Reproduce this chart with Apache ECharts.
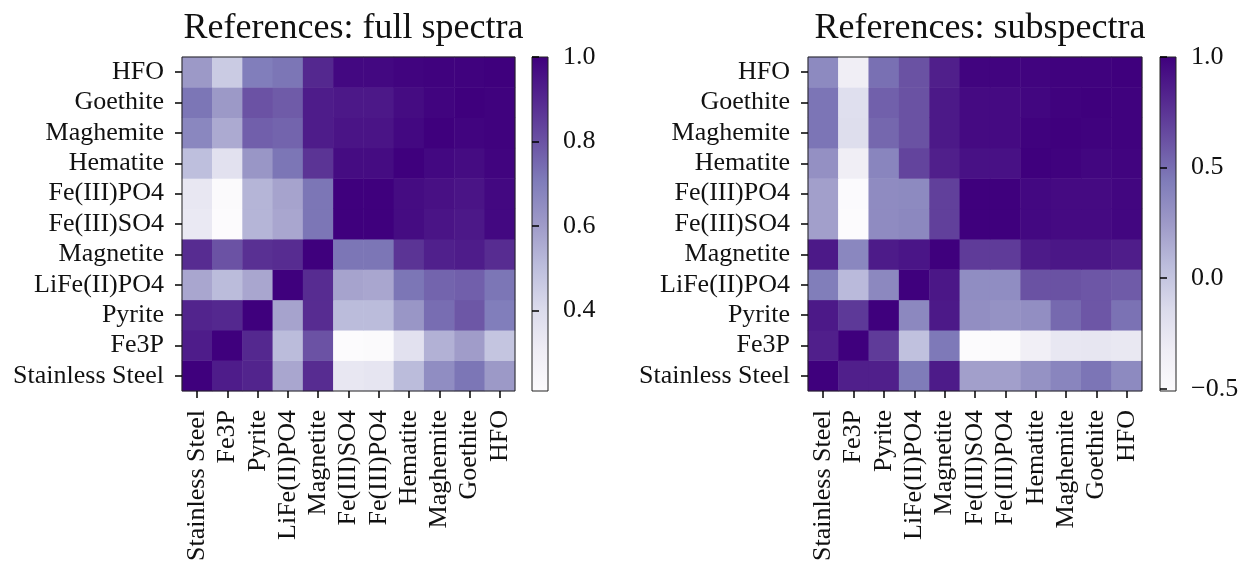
<!DOCTYPE html>
<html>
<head>
<meta charset="utf-8">
<title>References: correlation heatmaps</title>
<script src="https://cdn.jsdelivr.net/npm/echarts@6/dist/echarts.min.js"></script>
<style>
  html, body { margin: 0; padding: 0; background: #fff; }
  #chart { width: 1239px; height: 563px; }
</style>
</head>
<body>
<div id="chart"></div>
<script>
// Reference compounds, in axis order (first entry sits at the bottom of the y axis)
const labels = ['Stainless Steel', 'Fe3P', 'Pyrite', 'LiFe(II)PO4', 'Magnetite',
  'Fe(III)SO4', 'Fe(III)PO4', 'Hematite', 'Maghemite', 'Goethite', 'HFO'];

// Correlation of full spectra; row i / column j follow `labels`
const fullSpectra = [
  [1.00, 0.93, 0.91, 0.57, 0.89, 0.34, 0.35, 0.51, 0.65, 0.72, 0.61],
  [0.93, 1.00, 0.90, 0.51, 0.80, 0.21, 0.22, 0.37, 0.54, 0.60, 0.48],
  [0.91, 0.90, 1.00, 0.58, 0.89, 0.51, 0.51, 0.62, 0.74, 0.79, 0.70],
  [0.57, 0.51, 0.57, 1.00, 0.89, 0.58, 0.57, 0.72, 0.76, 0.77, 0.72],
  [0.89, 0.80, 0.88, 0.89, 1.00, 0.72, 0.72, 0.87, 0.92, 0.93, 0.89],
  [0.33, 0.21, 0.53, 0.57, 0.72, 1.00, 1.00, 0.97, 0.95, 0.94, 0.98],
  [0.34, 0.22, 0.53, 0.58, 0.72, 1.00, 1.00, 0.97, 0.96, 0.95, 0.98],
  [0.50, 0.37, 0.62, 0.72, 0.87, 0.97, 0.97, 1.00, 0.98, 0.97, 0.99],
  [0.67, 0.56, 0.77, 0.76, 0.93, 0.95, 0.95, 0.98, 1.00, 0.99, 0.995],
  [0.72, 0.61, 0.80, 0.78, 0.93, 0.94, 0.94, 0.97, 0.99, 1.00, 0.995],
  [0.61, 0.46, 0.70, 0.72, 0.90, 0.98, 0.98, 0.99, 0.995, 0.995, 1.00]
];

// Correlation of subspectra; same ordering
const subSpectra = [
  [1.00, 0.85, 0.85, 0.44, 0.87, 0.22, 0.22, 0.30, 0.38, 0.47, 0.35],
  [0.85, 1.00, 0.72, 0.03, 0.45, -0.51, -0.49, -0.35, -0.26, -0.25, -0.27],
  [0.88, 0.73, 1.00, 0.36, 0.88, 0.32, 0.30, 0.32, 0.52, 0.60, 0.48],
  [0.43, 0.07, 0.36, 1.00, 0.89, 0.33, 0.33, 0.62, 0.62, 0.60, 0.58],
  [0.88, 0.37, 0.87, 0.90, 1.00, 0.72, 0.72, 0.87, 0.89, 0.89, 0.86],
  [0.22, -0.51, 0.34, 0.36, 0.70, 1.00, 1.00, 0.96, 0.95, 0.95, 0.97],
  [0.22, -0.50, 0.34, 0.35, 0.70, 1.00, 1.00, 0.96, 0.95, 0.95, 0.97],
  [0.31, -0.33, 0.38, 0.68, 0.85, 0.92, 0.92, 1.00, 0.99, 0.97, 0.98],
  [0.47, -0.17, 0.53, 0.62, 0.88, 0.95, 0.95, 0.99, 1.00, 0.99, 0.99],
  [0.47, -0.18, 0.56, 0.62, 0.88, 0.95, 0.95, 0.97, 0.99, 1.00, 0.99],
  [0.35, -0.33, 0.49, 0.62, 0.85, 0.98, 0.98, 0.98, 0.99, 0.99, 1.00]
];

// Colorbar tick labels
const fullTicks = [0.4, 0.6, 0.8, 1.0];
const subTicks = [-0.5, 0.0, 0.5, 1.0];

const titles = ['References: full spectra', 'References: subspectra'];

// Purples colormap stops
const purples = ['#fcfbfd', '#efedf5', '#dadaeb', '#bcbddc', '#9e9ac8',
  '#807dba', '#6a51a3', '#54278f', '#3f007d'];

const FONT = '"Liberation Serif", "DejaVu Serif", serif';
const INK = '#111';
const TICK_FONT = 26;

function toCells(matrix) {
  const out = [];
  matrix.forEach((row, i) => row.forEach((v, j) => out.push([j, i, v])));
  return out;
}
function extent(matrix) {
  const flat = matrix.flat();
  return [Math.min(...flat), Math.max(...flat)];
}
const fmt = v => v.toFixed(1).replace('-', '\u2212');

const panels = [
  { matrix: fullSpectra, ticks: fullTicks, title: titles[0],
    grid: { left: 182, top: 57, width: 333, height: 334 },
    bar: { left: 532, top: 57, width: 16, height: 334 } },
  { matrix: subSpectra, ticks: subTicks, title: titles[1],
    grid: { left: 808, top: 57, width: 334, height: 334 },
    bar: { left: 1160, top: 57, width: 16, height: 334 } }
];

const option = {
  backgroundColor: '#fff',
  animation: false,
  title: [], grid: [], xAxis: [], yAxis: [], visualMap: [], series: []
};

panels.forEach((p, k) => {
  const [lo, hi] = extent(p.matrix);
  const gHeat = option.grid.length;
  const gBar = gHeat + 1;

  option.title.push({
    text: p.title,
    left: p.grid.left + p.grid.width / 2,
    top: 6,
    textAlign: 'center',
    textStyle: { fontFamily: FONT, fontSize: 36, fontWeight: 'normal', color: INK }
  });

  // heatmap area, border drawn above the cells
  option.grid.push(Object.assign({
    show: true, z: 10, backgroundColor: 'transparent',
    borderColor: '#222', borderWidth: 1, outerBoundsMode: 'none'
  }, p.grid));
  // colorbar area with the colormap as its fill
  option.grid.push(Object.assign({
    show: true, borderColor: '#222', borderWidth: 1, outerBoundsMode: 'none',
    backgroundColor: {
      type: 'linear', x: 0, y: 1, x2: 0, y2: 0,
      colorStops: purples.map((c, i) => ({ offset: i / (purples.length - 1), color: c }))
    }
  }, p.bar));

  const tickStyle = { show: true, length: 7, lineStyle: { color: '#000', width: 1.5 } };

  option.xAxis.push({
    type: 'category', gridIndex: gHeat, data: labels, z: 10,
    axisLine: { show: false },
    axisTick: Object.assign({ alignWithLabel: true, interval: 0 }, tickStyle),
    axisLabel: { interval: 0, rotate: 90, margin: 19, fontFamily: FONT, fontSize: TICK_FONT, color: INK },
    splitLine: { show: false }
  });
  option.yAxis.push({
    type: 'category', gridIndex: gHeat, data: labels, z: 10,
    axisLine: { show: false },
    axisTick: Object.assign({ alignWithLabel: true, interval: 0 }, tickStyle),
    axisLabel: { interval: 0, margin: 18, fontFamily: FONT, fontSize: TICK_FONT, color: INK },
    splitLine: { show: false }
  });

  option.xAxis.push({
    type: 'value', gridIndex: gBar, show: false, min: 0, max: 1
  });
  option.yAxis.push({
    type: 'value', gridIndex: gBar, position: 'right', min: lo, max: hi,
    axisLine: { show: false },
    splitLine: { show: false },
    axisTick: Object.assign({ customValues: p.ticks }, tickStyle),
    axisLabel: { customValues: p.ticks, formatter: fmt, margin: 15,
      fontFamily: FONT, fontSize: TICK_FONT, color: INK }
  });

  option.visualMap.push({
    type: 'continuous', show: false, seriesIndex: k, dimension: 2,
    min: lo, max: hi, inRange: { color: purples }
  });

  option.series.push({
    type: 'heatmap',
    xAxisIndex: gHeat, yAxisIndex: gHeat,
    data: toCells(p.matrix),
    itemStyle: { borderWidth: 0 },
    emphasis: { disabled: true }
  });
});

const chart = echarts.init(document.getElementById('chart'), null, { renderer: 'canvas' });
chart.setOption(option);
</script>
</body>
</html>
